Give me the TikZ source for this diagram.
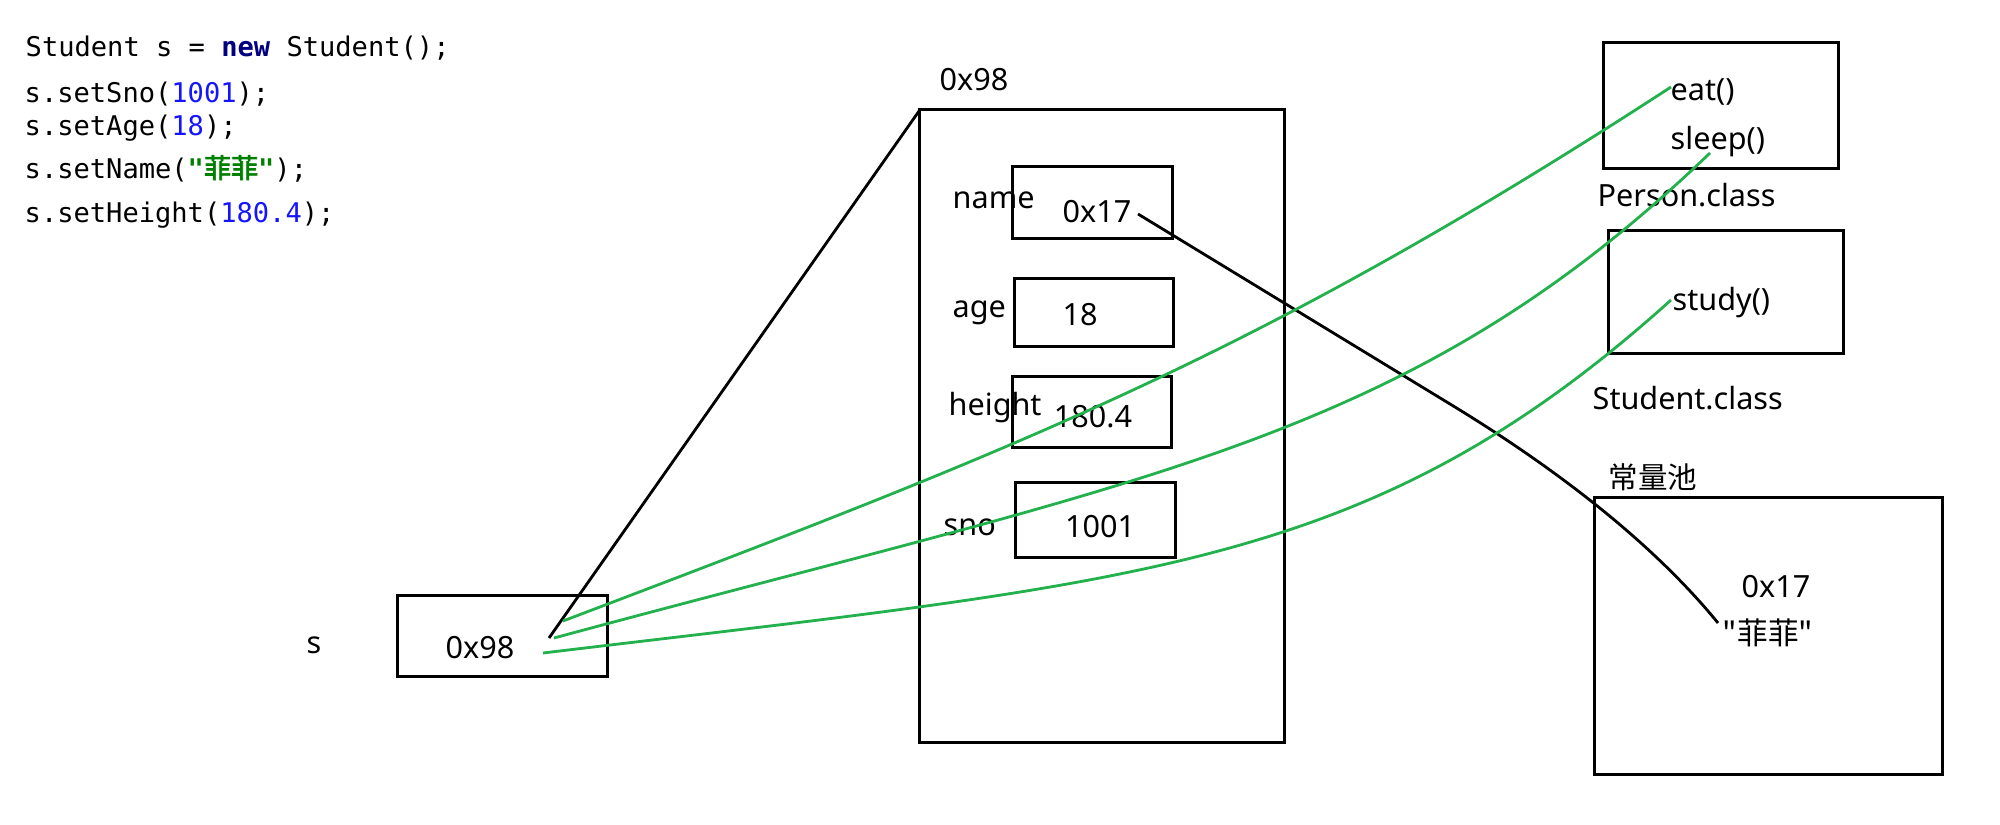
\documentclass[tikz,border=0pt]{standalone}
\usepackage{fontspec}
\setmainfont{Noto Sans}
\newfontfamily\cjk{Noto Sans CJK SC}
\newfontfamily\codefont{DejaVu Sans Mono}
\newfontfamily\cjkcode[AutoFakeBold=2.5]{Noto Sans CJK SC}
\definecolor{kw}{RGB}{0,0,128}
\definecolor{num}{RGB}{20,20,255}
\definecolor{str}{RGB}{0,128,0}
\definecolor{lk}{RGB}{34,177,76}
\begin{document}
\begin{tikzpicture}[x=0.01cm,y=-0.01cm,
  box/.style={draw, line width=0.85pt, inner sep=0pt, outer sep=0pt},
  lbl/.style={inner sep=0pt, font=\fontsize{8.7}{10}\selectfont},
  cjklbl/.style={inner sep=0pt, font=\fontsize{8.4}{10}\selectfont\cjk},
  code/.style={inner sep=0pt, anchor=base west, font=\fontsize{7.7}{9}\selectfont\codefont},
  ref/.style={draw=black, line width=0.8pt},
  meth/.style={draw=lk, line width=0.8pt}]
\useasboundingbox (0,0) rectangle (2000,824);
% code
\node[code] (c1) at (25,57) {Student s = {\bfseries\color{kw}new} Student();};
\node[code] (c2) at (24,102) {s.setSno({\color{num}1001});};
\node[code] (c3) at (24,135) {s.setAge({\color{num}18});};
\node[code] (c4) at (24,178) {s.setName({\color{str}\bfseries"{\cjkcode\bfseries 菲菲}"});};
\node[code] (c5) at (24,222) {s.setHeight({\color{num}180.4});};
% boxes
\node[box, minimum width=3.64cm, minimum height=6.32cm] (bigbox) at (1102,426) {};
\node[box, minimum width=1.59cm, minimum height=0.71cm] (namebox) at (1092.5,202.5) {};
\node[box, minimum width=1.58cm, minimum height=0.67cm] (agebox) at (1094,312.5) {};
\node[box, minimum width=1.58cm, minimum height=0.70cm] (heightbox) at (1092,412) {};
\node[box, minimum width=1.59cm, minimum height=0.74cm] (snobox) at (1095.5,520) {};
\node[box, minimum width=2.09cm, minimum height=0.80cm] (sbox) at (502.5,636) {};
\node[box, minimum width=2.34cm, minimum height=1.25cm] (personbox) at (1721,105.5) {};
\node[box, minimum width=2.34cm, minimum height=1.22cm] (studentbox) at (1726,292) {};
\node[box, minimum width=3.47cm, minimum height=2.76cm] (poolbox) at (1768.5,636) {};
% labels
\node[lbl] (objaddr) at (974,80) {0x98};
\node[lbl, anchor=west] (namel) at (952,200) {name};
\node[lbl] (namev) at (1097,212) {0x17};
\node[lbl, anchor=west] (agel) at (952,313) {age};
\node[lbl] (agev) at (1080,315) {18};
\node[lbl, anchor=west] (heightl) at (948,408) {height};
\node[lbl] (heightv) at (1093,417) {180.4};
\node[lbl, anchor=west] (snol) at (943,527) {sno};
\node[lbl] (snov) at (1100,527) {1001};
\node[lbl] (svar) at (314,645) {s};
\node[lbl] (sval) at (480,648) {0x98};
\node[lbl, anchor=west] (eat) at (1670,92) {eat()};
\node[lbl, anchor=west] (sleep) at (1670,142) {sleep()};
\node[lbl, anchor=west] (personl) at (1597,195) {Person.class};
\node[lbl, anchor=west] (study) at (1672,303) {study()};
\node[lbl, anchor=west] (studentl) at (1592,398) {Student.class};
\node[cjklbl, anchor=west] (pooll) at (1608,477) {常量池};
\node[lbl] (poolv) at (1776,587) {0x17};
\node[lbl] (pools) at (1768,633) {{\cjk "菲菲"}};
% connector end points
\coordinate (sa) at (549,638);
\coordinate (g1s) at (563,621);
\coordinate (g2s) at (554,638);
\coordinate (g3s) at (543,653);
\coordinate (g1e) at (1671,87);
\coordinate (g2e) at (1710,153);
\coordinate (g3e) at (1671,300);
\coordinate (ns) at (1138,214);
\coordinate (nm) at (1450,404);
\coordinate (ne) at (1718,623);
% connectors
\draw[ref] (sa) -- (bigbox.north west);
\draw[ref] (ns) -- (nm) .. controls (1580,483) and (1665,558) .. (ne);
\draw[meth] (g1s) .. controls (1013,450) and (1251,360) .. (g1e);
\draw[meth] (g2s) .. controls (1154,476) and (1410,441) .. (g2e);
\draw[meth] (g3s) .. controls (1143,581) and (1371,570) .. (g3e);
\end{tikzpicture}
\end{document}
